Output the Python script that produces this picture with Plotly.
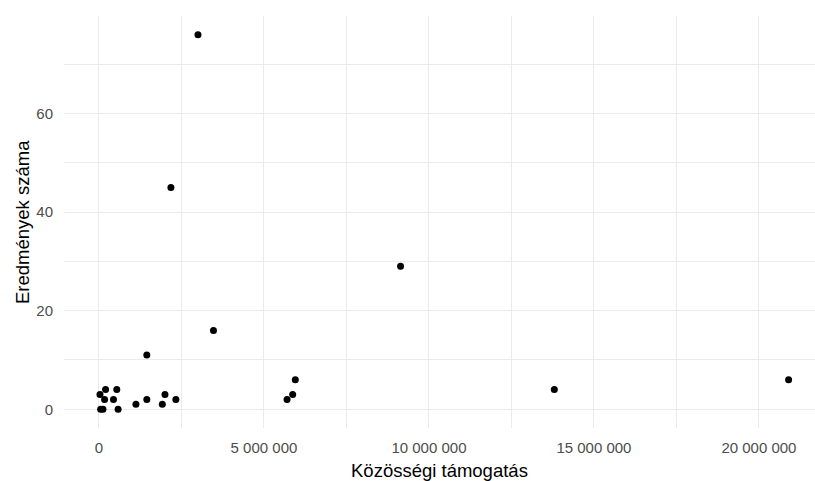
import plotly.graph_objects as go

# Közösségi támogatás (EUR) and Eredmények száma
tamogatas = [3.0e6, 2.18e6, 9.14e6, 3.47e6, 1.45e6, 13.8e6, 20.9e6,
             5.95e6, 5.87e6, 5.7e6,
             1.12e6, 1.45e6, 1.92e6, 2.0e6, 2.33e6,
             0.03e6, 0.2e6, 0.17e6, 0.54e6, 0.44e6, 0.05e6, 0.12e6, 0.58e6]
eredmenyek = [76, 45, 29, 16, 11, 4, 6,
              6, 3, 2,
              1, 2, 1, 3, 2,
              3, 4, 2, 4, 2, 0, 0, 0]

x_tickvals = [0, 5e6, 10e6, 15e6, 20e6]
x_ticktext = ["0", "5\u00a0000\u00a0000", "10\u00a0000\u00a0000",
              "15\u00a0000\u00a0000", "20\u00a0000\u00a0000"]
y_tickvals = [0, 20, 40, 60]
y_ticktext = ["0", "20", "40", "60"]
x_title = "Közösségi támogatás"
y_title = "Eredmények száma"

fig = go.Figure(go.Scatter(
    x=tamogatas, y=eredmenyek, mode="markers",
    marker=dict(color="black", size=7, line=dict(width=0)),
    hoverinfo="x+y",
))

grid = "#ebebeb"
tick_font = dict(size=15, color="#4d4d4d")

fig.update_layout(
    width=815, height=481,
    margin=dict(l=64, r=0, t=16, b=53),
    paper_bgcolor="white", plot_bgcolor="white",
    font=dict(family="Liberation Sans, Arial, sans-serif"),
    showlegend=False,
    xaxis=dict(
        range=[-1.06e6, 21.7e6], automargin=False,
        tickmode="array", tickvals=x_tickvals, ticktext=x_ticktext,
        tickangle=0, tickfont=tick_font,
        showgrid=True, gridcolor=grid, gridwidth=1.1,
        zeroline=False, showline=False,
        ticks="outside", ticklen=6, tickcolor="rgba(0,0,0,0)",
        minor=dict(dtick=2.5e6, tick0=0, showgrid=True, gridcolor=grid, gridwidth=0.6),
    ),
    yaxis=dict(
        range=[-3.8, 79.8], automargin=False,
        tickmode="array", tickvals=y_tickvals, ticktext=y_ticktext,
        tickfont=tick_font,
        showgrid=True, gridcolor=grid, gridwidth=1.1,
        zeroline=False, showline=False,
        ticks="outside", ticklen=7, tickcolor="rgba(0,0,0,0)",
        minor=dict(dtick=10, tick0=0, showgrid=True, gridcolor=grid, gridwidth=0.6),
    ),
    annotations=[
        dict(text=x_title, xref="paper", yref="paper", x=0.5, y=0,
             xanchor="center", yanchor="middle", yshift=-42, showarrow=False,
             font=dict(size=18.5, color="black")),
        dict(text=y_title, xref="paper", yref="paper", x=0, y=0.5,
             xanchor="center", yanchor="middle", xshift=-42, textangle=-90,
             showarrow=False, font=dict(size=18.5, color="black")),
    ],
)

fig.write_html(
    "out.html",
    config={"displayModeBar": False},
    post_script="document.body.style.margin='0';document.body.style.overflow='hidden';",
)
